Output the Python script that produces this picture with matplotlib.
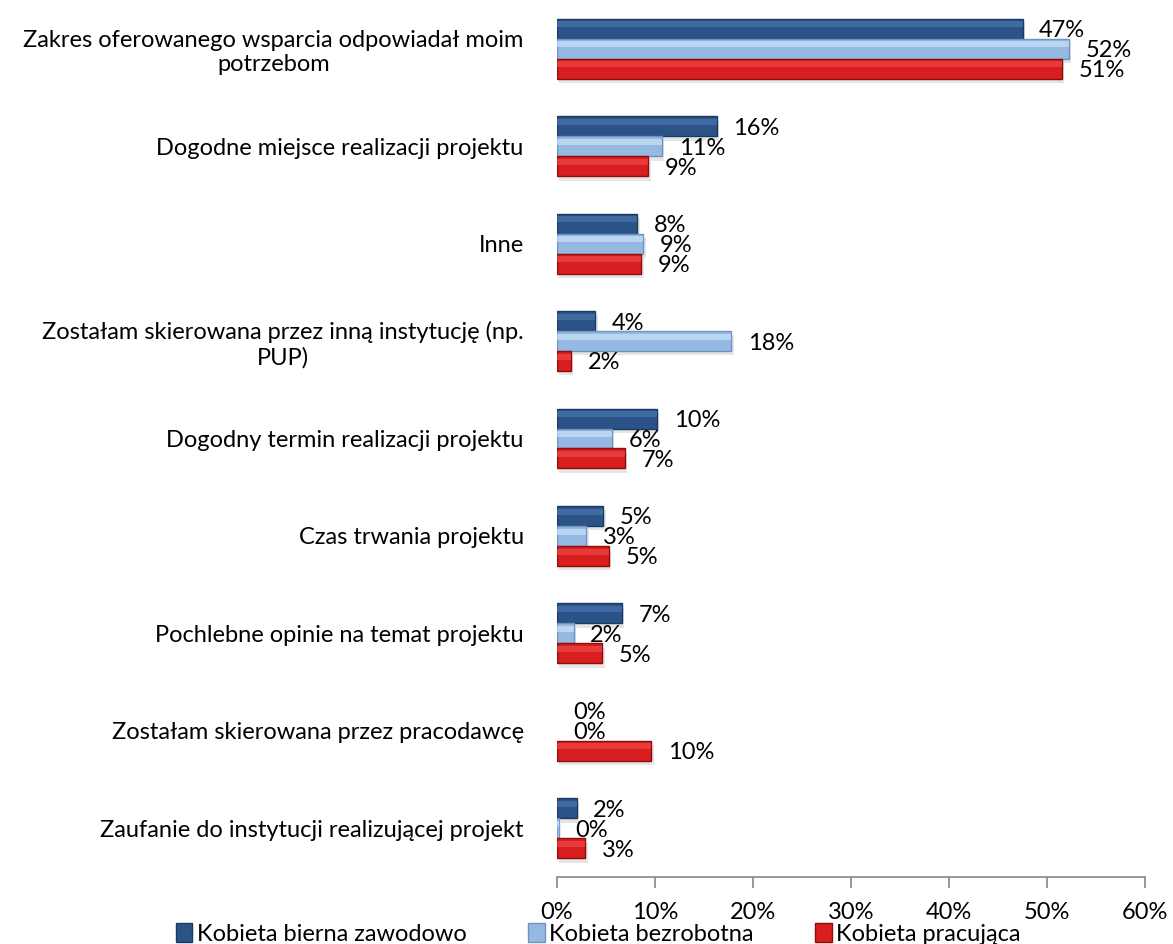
import matplotlib.pyplot as plt
import numpy as np

plt.rcParams['font.family'] = ['Lato', 'DejaVu Sans']

categories = [
    'Zakres oferowanego wsparcia odpowiadał moim\npotrzebom',
    'Dogodne miejsce realizacji projektu',
    'Inne',
    'Zostałam skierowana przez inną instytucję (np.\nPUP)',
    'Dogodny termin realizacji projektu',
    'Czas trwania projektu',
    'Pochlebne opinie na temat projektu',
    'Zostałam skierowana przez pracodawcę',
    'Zaufanie do instytucji realizującej projekt',
]
series_names = ['Kobieta bierna zawodowo', 'Kobieta bezrobotna', 'Kobieta pracująca']
bierna = [47.5, 16.3, 8.2, 3.9, 10.2, 4.7, 6.6, 0.0, 2.0]
bezrobotna = [52.2, 10.7, 8.8, 17.8, 5.6, 3.0, 1.7, 0.0, 0.2]
pracujaca = [51.5, 9.3, 8.6, 1.4, 6.9, 5.3, 4.6, 9.6, 2.9]
labels = [
    [47, 16, 8, 4, 10, 5, 7, 0, 2],
    [52, 11, 9, 18, 6, 3, 2, 0, 0],
    [51, 9, 9, 2, 7, 5, 5, 10, 3],
]

colors = ['#2B5387', '#95B9E3', '#D81E1E']
edges = ['#1B3A63', '#6F93BF', '#8E0C0C']
highlights = ['#4F7AB3', '#D4E9FA', '#F25050']

fig = plt.figure(figsize=(11.73, 9.44), dpi=100)
ax = fig.add_axes([557 / 1173, 67 / 944, 588 / 1173, 877 / 944])

y = np.arange(len(categories))
h = 0.205
all_vals = [bierna, bezrobotna, pracujaca]
handles = []
for i, vals in enumerate(all_vals):
    pos = y + (i - 1) * h
    lw = [1.0 if v > 0.5 else 0.6 for v in vals]
    ec = [edges[i] if v > 0 else 'none' for v in vals]
    # soft shadow under each bar
    ax.barh(pos + 0.045, vals, height=h, left=0.25, color='#000000', alpha=0.10, zorder=1)
    b = ax.barh(pos, vals, height=h, color=colors[i], edgecolor=ec,
                linewidth=lw, zorder=2, label=series_names[i])
    # bevel highlight on the upper part of each bar
    ax.barh(pos - h * 0.22, vals, height=h * 0.3, color=highlights[i],
            alpha=0.6, linewidth=0, zorder=2.5)
    handles.append(b)
    for p, v, lab in zip(pos, vals, labels[i]):
        ax.text(v + 1.7, p + 0.02, f'{lab}%', va='center', ha='left',
                fontsize=17, color='black', zorder=3)

ax.set_ylim(len(categories) - 0.5, -0.5)
ax.set_xlim(0, 60)
ax.set_yticks(y)
ax.set_yticklabels(categories, fontsize=17, multialignment='center')
ax.tick_params(axis='y', length=0, pad=24)
ax.set_xticks(np.arange(0, 61, 10))
ax.set_xticklabels([f'{t}%' for t in range(0, 61, 10)], fontsize=17)
ax.tick_params(axis='x', direction='out', length=8, width=1.2, color='#868686', pad=10)

for s in ['top', 'right', 'left']:
    ax.spines[s].set_visible(False)
ax.spines['bottom'].set_color('#868686')
ax.spines['bottom'].set_linewidth(1.2)

fig.legend(handles=handles, labels=series_names, loc='center', ncol=3,
           bbox_to_anchor=(0.51, 0.011), frameon=False, fontsize=17,
           handlelength=0.7, handleheight=0.9, handletextpad=0.2,
           columnspacing=2.6, borderpad=0)

fig.savefig('out.png', dpi=100)
